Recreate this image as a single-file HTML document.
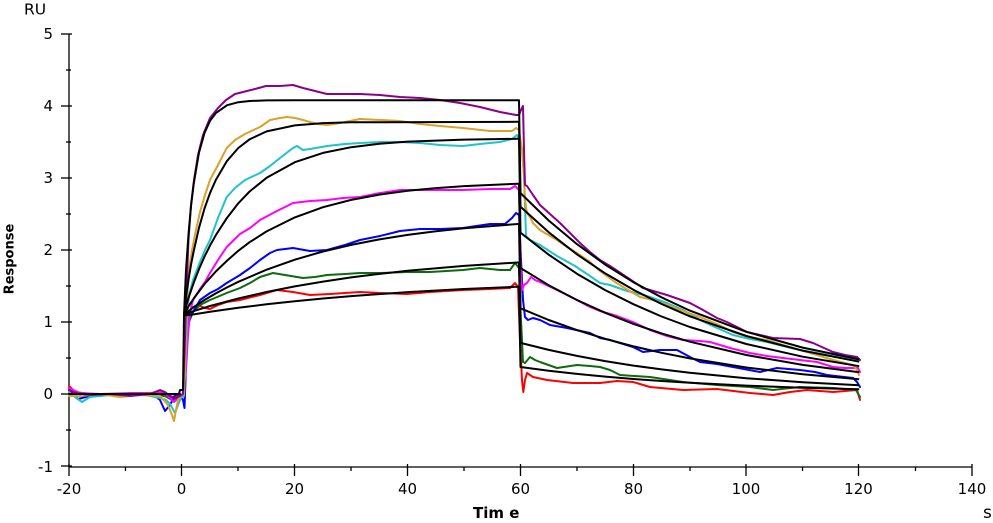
<!DOCTYPE html>
<html><head><meta charset="utf-8"><style>
html,body{margin:0;padding:0;background:#fff;}
svg{display:block;}
text{font-family:"DejaVu Sans","Liberation Sans",sans-serif;fill:#000;}
</style></head><body>
<svg width="993" height="523" viewBox="0 0 993 523" xmlns="http://www.w3.org/2000/svg">
<rect width="993" height="523" fill="#fff"/>
<!-- axes -->
<g stroke="#000" stroke-width="1.3" fill="none">
<line x1="69" y1="34" x2="69" y2="467"/>
<line x1="69" y1="467" x2="972" y2="467"/>
<line x1="61" y1="34" x2="72" y2="34"/><line x1="61" y1="106" x2="72" y2="106"/><line x1="61" y1="178" x2="72" y2="178"/><line x1="61" y1="250" x2="72" y2="250"/><line x1="61" y1="322" x2="72" y2="322"/><line x1="61" y1="394" x2="72" y2="394"/><line x1="61" y1="466" x2="72" y2="466"/>
<line x1="66" y1="70" x2="71" y2="70"/><line x1="66" y1="142" x2="71" y2="142"/><line x1="66" y1="214" x2="71" y2="214"/><line x1="66" y1="286" x2="71" y2="286"/><line x1="66" y1="358" x2="71" y2="358"/><line x1="66" y1="430" x2="71" y2="430"/>
<line x1="69" y1="464" x2="69" y2="476"/><line x1="181.5" y1="464" x2="181.5" y2="476"/><line x1="294.5" y1="464" x2="294.5" y2="476"/><line x1="407.5" y1="464" x2="407.5" y2="476"/><line x1="520.5" y1="464" x2="520.5" y2="476"/><line x1="633.5" y1="464" x2="633.5" y2="476"/><line x1="746" y1="464" x2="746" y2="476"/><line x1="858.5" y1="464" x2="858.5" y2="476"/><line x1="972" y1="464" x2="972" y2="476"/>
<line x1="125.5" y1="467" x2="125.5" y2="471"/><line x1="238" y1="467" x2="238" y2="471"/><line x1="351" y1="467" x2="351" y2="471"/><line x1="464" y1="467" x2="464" y2="471"/><line x1="577" y1="467" x2="577" y2="471"/><line x1="690" y1="467" x2="690" y2="471"/><line x1="802.5" y1="467" x2="802.5" y2="471"/><line x1="915.5" y1="467" x2="915.5" y2="471"/>
</g>
<!-- labels -->
<g font-size="15" text-anchor="end">
<text x="53" y="39">5</text><text x="53" y="111">4</text><text x="53" y="183">3</text><text x="53" y="255">2</text><text x="53" y="327">1</text><text x="53" y="399">0</text><text x="53" y="472">-1</text>
</g>
<g font-size="15" text-anchor="middle">
<text x="69" y="494">-20</text><text x="181.5" y="494">0</text><text x="294.5" y="494">20</text><text x="407.5" y="494">40</text><text x="520.5" y="494">60</text><text x="633.5" y="494">80</text><text x="746" y="494">100</text><text x="858.5" y="494">120</text><text x="972" y="494">140</text>
</g>
<text x="24" y="14.5" font-size="15.5">RU</text>
<text x="983" y="518" font-size="17">s</text>
<text x="473" y="518" font-size="15" font-weight="bold">Tim e</text>
<text transform="translate(13.5,259) rotate(-90)" font-size="13" font-weight="bold" text-anchor="middle">Response</text>

<!-- data -->
<g fill="none" stroke-width="2" stroke-linejoin="round" stroke-linecap="round">
<polyline stroke="#ff0000" points="69,386 75,392 90,395 120,394 150,394 165,396 172,398 178,396 183,394 185,370 187,330 189,312 193,307 200,306 205,308 210,309 218,305 226.7,302 240,300 260,295 276.7,290 293,292 310,295 330,294 360,292 380,293 407,294 430,292 463,290 490,289 510,288 515,283 518,287 520,340 522,380 523.3,392 525,380 527,373 533,377 547,380 573,383 600,383 617,381 633,382 650,387 683,390 717,389 750,393 773,395 790,392 807,390 833,392 857,390 860,400"/>
<polyline stroke="#0d6b0d" points="69,390 75,392 90,394 120,394 150,394 165,396 172,400 178,398 183,394 185,370 187,340 189,322 193,312 200,305 210,300 226.7,293 240,288 250,283 260,277 273,273 285,275 303,278 315,277 327,275 345,274 360,273 380,273 407,272 430,272 463,270 480,268 500,270 510,270 515,263 519,268 521,320 523,362 525,363 530,357 535,360 540,362 557,368 577,365 590,366 600,367 610,370 620,375 650,377 683,382 717,385 750,387 773,390 790,388 800,387 833,388 856,390 860,397"/>
<polyline stroke="#0000ff" points="69,390 78,399 90,396 110,394 140,394 155,396 160,400 165,411 170,405 175,395 180,394 183,400 184.5,408 185.5,380 186.5,340 188,320 193,312 200,300 210,293 218,289 226.7,283 240,275 250,268 260,260 270,253 277,250 293,248 310,251 327,250 345,245 360,240 380,236 400,231 420,229 440,229 463,228 490,224 505,224 512,218 516,213 519,215 521,260 523,300 525,317 528,320 533,318 540,320 550,325 567,328 590,333 600,338 610,340 633,347 643,352 660,350 677,350 690,357 700,362 717,364 733,367 760,372 777,368 800,370 815,372 827,375 853,378 857,382 860,387"/>
<polyline stroke="#ff00ff" points="69,388 80,393 100,394 130,393 150,393 162,392 168,396 174,402 178,398 183,394 186,370 188,335 190,312 193,300 200,289 205,282 210,273 218,260 226.7,247 240,234 250,228 260,220 275,212 293,203 310,201 327,200 343,198 360,197 380,193 400,190 420,190 440,190 463,190 490,189 510,189 515,186 519,190 521,277 522,290 524,285 527,283 531,277 535,280 540,282 557,290 575,299 590,307 600,311 617,316 633,322 650,330 667,336 683,340 700,341 710,342 730,348 750,353 767,356 783,358 800,360 817,362 833,367 845,368 858,368 860,372"/>
<polyline stroke="#1fc4c8" points="69,392 75,397 82,402 90,397 110,395 140,394 160,398 166,400 170,404 175,413 178,405 181,398 184,396 186,350 187.5,315 189,295 193,280 200,262 205,250 210,240 218,218 226.7,197 235,188 245,180 260,173 270,166 280,158 293,148 297,146 303,150 310,149 327,146 345,144 360,143 380,142 400,142 420,143 440,145 463,146 480,144 500,142 512,139 517,135 520,140 522,150 524,175 526,236 530,240 540,245 557,256 575,266 590,276 600,283 610,285 627,291 640,294 650,297 667,303 683,310 700,320 717,328 733,335 750,339 767,342 783,346 800,350 817,353 833,356 858,360"/>
<polyline stroke="#d9a229" points="69,396 80,396 100,394 120,397 140,395 160,396 168,405 172,415 174,421 176,410 178,400 181,396 184,394 185.5,350 187,300 189,270 192,250 196,230 200,212 205,195 210,180 218,165 226.7,148 235,140 245,134 260,127 270,120 280,118 287,117 295,118 303,120 310,122 318,124 327,125 340,123 360,119 380,120 400,121 420,124 440,126 463,128 490,131 512,131 516,128 519,130 522,150 524,175 525,200 527,213 530,217 533,223 540,230 550,236 557,240 567,247 577,253 590,262 600,271 615,282 628,290 640,297 653,300 667,305 683,311 700,317 717,324 733,332 750,337 767,340 783,345 800,350 817,355 833,360 845,363 853,365 857,370 859,375"/>
<polyline stroke="#8b008b" points="69,390 75,393 90,395 110,394 130,396 150,394 160,390 165,392 170,396 176,398 180,396 183,394 185,340 186.5,290 188.5,240 191,205 194,180 198,155 203,135 210,118 218,108 226,100 235,94 243,92 255,89 266,86 280,86 293,85 303,88 315,91 327,94 345,94 360,94 380,95 400,97 420,98 440,100 460,103 480,107 500,112 516,115 519,115 521,110 523,106 524,150 525,185 527,186 533,195 540,205 550,214 560,223 570,233 580,243 590,252 600,260 610,266 625,276 643,288 667,295 690,303 703,310 717,318 727,322 747,332 773,338 800,339 813,343 833,352 845,355 857,357 860,360"/>
</g>

<!-- fits -->
<g fill="none" stroke="#000" stroke-width="2" stroke-linejoin="round">
<polyline points="69,394 179,394 180,390 183,390 184,314.8"/>
<polyline points="184,314.8 186,269.9 188.5,234.3 191,206.2 193.7,184 199,152.6 204.5,133 210.1,120.7 215.8,113.1 227.1,105.2 238.3,102.2 249.6,101 266.6,100.4 294.8,100.2 517.7,100.2 519,100.2 520.5,193.1 548.7,220.5 576.9,244.1 605.2,264.6 633.4,282.2 661.6,297.4 689.8,310.6 746.3,331.8 802.7,347.6 859.2,359.4"/>
<polyline points="184,314.8 186,296.4 188.5,279.8 191,264.8 193.7,251.2 199,227.8 204.5,208.5 210.1,192.8 215.8,180 227.1,160.8 238.3,148 249.6,139.3 266.6,131.4 294.8,125.4 323,123.1 351.2,122.3 517.7,121.8 519,121.8 520.5,206.8 548.7,232.3 576.9,254.3 605.2,273.4 633.4,289.8 661.6,304 689.8,316.3 746.3,336 802.7,350.7 859.2,361.7"/>
<polyline points="184,314.8 186,306.2 188.5,298 193.7,282.8 199,269.1 204.5,256.6 210.1,245.4 215.8,235.2 227.1,217.7 238.3,203.3 249.6,191.5 266.6,177.8 294.8,162.2 323,152.9 351.2,147.2 379.4,143.7 407.7,141.6 464.1,139.6 517.7,138.8 519,138.8 520.5,232.7 548.7,254.7 576.9,273.7 605.2,290.1 633.4,304.2 661.6,316.5 689.8,327 746.3,344 802.7,356.7 859.2,366.2"/>
<polyline points="184,314.8 188.5,306.4 193.7,298.5 204.5,284.1 215.8,271.5 227.1,260.6 238.3,250.8 249.6,242.2 266.6,231.4 294.8,217.4 323,207.2 351.2,199.9 379.4,194.6 407.7,190.8 435.9,188.1 464.1,186.1 517.7,183.7 519,183.7 520.5,268 548.7,285.2 576.9,300 605.2,312.8 633.4,323.9 661.6,333.4 689.8,341.7 746.3,355 802.7,364.9 859.2,372.3"/>
<polyline points="184,314.8 193.7,307.1 204.5,300 215.8,293.4 227.1,287.4 238.3,281.8 266.6,269.7 294.8,259.7 323,251.5 351.2,244.9 379.4,239.4 407.7,234.9 435.9,231.3 464.1,228.3 517.7,224 519,224 520.5,308.3 548.7,320 576.9,330.1 605.2,338.8 633.4,346.3 661.6,352.8 689.8,358.4 746.3,367.5 802.7,374.2 859.2,379.2"/>
<polyline points="184,314.8 193.7,311.1 210.1,306 238.3,298.5 266.6,292 294.8,286.4 323,281.6 351.2,277.4 379.4,273.9 407.7,270.8 464.1,265.9 517.7,262.5 519,262.5 520.5,342.9 548.7,349.9 576.9,355.9 605.2,361.1 633.4,365.6 661.6,369.4 689.8,372.8 746.3,378.2 802.7,382.2 859.2,385.2"/>
<polyline points="184,315.5 193.7,314.4 210.1,311.8 238.3,307.8 266.6,304.3 294.8,301.2 323,298.5 351.2,296.1 407.7,292.1 464.1,289 517.7,286.7 519,286.7 520.5,367 548.7,370.7 576.9,373.9 605.2,376.6 633.4,379 661.6,381 689.8,382.8 746.3,385.6 802.7,387.8 859.2,389.3"/>
</g>
</svg>
</body></html>
